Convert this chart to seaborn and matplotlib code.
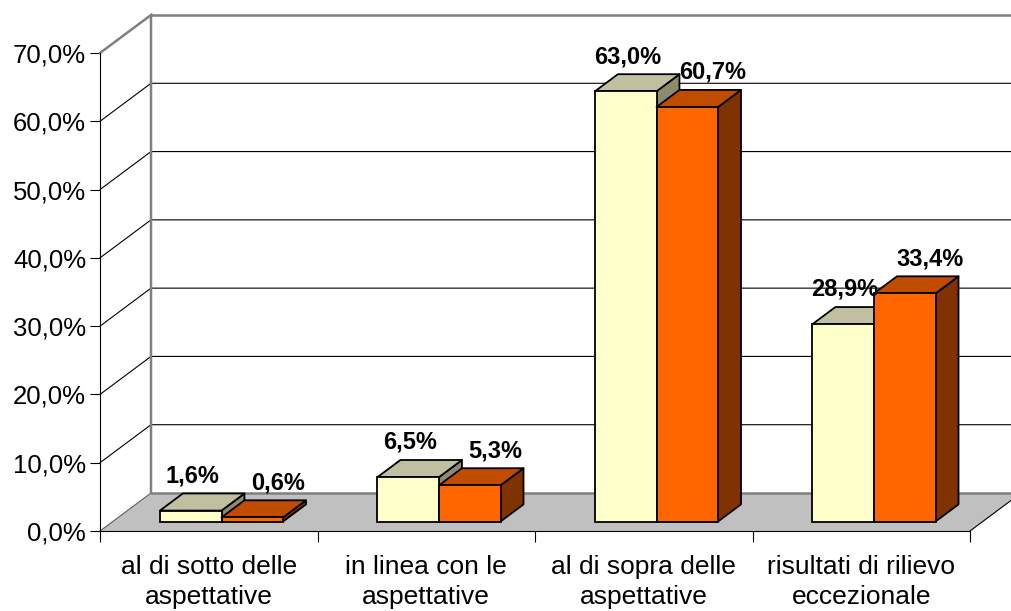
#Recreating the 3D-looking Excel bar chart (two series per category)
import numpy as np
import pandas as pd
import matplotlib
matplotlib.use("Agg")
import matplotlib.pyplot as plt
import seaborn as sns
from matplotlib.patches import Polygon

#DATA
categories = ["al di sotto delle\naspettative", "in linea con le\naspettative",
              "al di sopra delle\naspettative", "risultati di rilievo\neccezionale"]
series_names = ["serie 1", "serie 2"]
serie_1 = [1.6, 6.5, 63.0, 28.9]
serie_2 = [0.6, 5.3, 60.7, 33.4]
y_ticks = [0, 10, 20, 30, 40, 50, 60, 70]

#STYLE
front_cols = ["#FFFFCC", "#FF6600"]
top_cols = ["#C0C0A0", "#C04C00"]
side_cols = ["#8C8C6C", "#803300"]
floor_col = "#C0C0C0"
edge_gray = "#808080"
label_shift = [-7, 10]   #points, horizontal nudge of the value labels per series

def pct(v):
    return f"{v:.1f}".replace(".", ",") + "%"

sns.set_style("white")
plt.rcParams["font.family"] = ["Liberation Sans", "DejaVu Sans"]
plt.rcParams.update({"text.color": "black", "xtick.color": "black", "ytick.color": "black"})

fig = plt.figure(figsize=(10.11, 6.11), dpi=100)
ax = fig.add_axes([100/1011, 80/611, 870/1011, 478/611])

df = pd.DataFrame({"categoria": categories * 2,
                   "serie": [n for n in series_names for _ in categories],
                   "valore": serie_1 + serie_2})

sns.barplot(data=df, x="categoria", y="valore", hue="serie", order=categories,
            hue_order=series_names, palette=front_cols, saturation=1, width=0.566,
            edgecolor="black", linewidth=1.3, errorbar=None, legend=False, ax=ax)

x0, x1 = -0.5, len(categories) - 0.5
ax.set_xlim(x0, x1)
ax.set_ylim(0, 70)

#depth of the "box" in data units (x in categories, y in percent)
DX = 51 / 217.5
DY = 38 / (478 / 70)
z0, z1 = 0.25, 0.70
dz = z1 - z0

#floor and walls
ax.add_patch(Polygon([(x0, 0), (x1, 0), (x1 + DX, DY), (x0 + DX, DY)],
                     closed=True, fc=floor_col, ec="none", zorder=1, clip_on=False))
ax.plot([x1, x1 + DX], [0, DY], color="black", lw=0.8, zorder=1.2, clip_on=False)
ax.plot([x0, x0 + DX], [0, DY], color="#606060", lw=0.8, zorder=1.2, clip_on=False)
for t in y_ticks[1:-1]:
    ax.plot([x0, x0 + DX, x1 + DX], [t, t + DY, t + DY], color="black", lw=0.8,
            zorder=1.2, clip_on=False)
ax.plot([x0, x0 + DX, x0 + DX], [70, 70 + DY, DY], color=edge_gray, lw=1.8,
        zorder=1.5, clip_on=False, solid_joinstyle="miter")
ax.plot([x0 + DX, x1 + DX], [70 + DY, 70 + DY], color=edge_gray, lw=1.8,
        zorder=1.5, clip_on=False)
ax.plot([x0 + DX, x1 + DX], [DY, DY], color=edge_gray, lw=1.8, zorder=1.5, clip_on=False)

#turning the flat bars into boxes
for j, cont in enumerate(ax.containers):
    for i, p in enumerate(cont):
        k = i * 2 + j
        p.set_x(p.get_x() + z0 * DX)
        p.set_y(z0 * DY)
        p.set_zorder(10 + k + 0.5)
        xl, xr = p.get_x(), p.get_x() + p.get_width()
        yb, yt = p.get_y(), p.get_y() + p.get_height()
        top = [(xl, yt), (xr, yt), (xr + dz * DX, yt + dz * DY), (xl + dz * DX, yt + dz * DY)]
        side = [(xr, yb), (xr, yt), (xr + dz * DX, yt + dz * DY), (xr + dz * DX, yb + dz * DY)]
        ax.add_patch(Polygon(side, closed=True, fc=side_cols[j], ec="black", lw=1.3,
                             zorder=10 + k, joinstyle="round"))
        ax.add_patch(Polygon(top, closed=True, fc=top_cols[j], ec="black", lw=1.3,
                             zorder=10 + k, joinstyle="round"))
        ax.annotate(pct(p.get_height()), xy=((xl + xr) / 2 + dz * DX / 2, yt + dz * DY),
                    xytext=(label_shift[j], 8), textcoords="offset points", ha="center",
                    va="baseline", fontsize=17, fontweight="bold", annotation_clip=False,
                    zorder=30)

#axes
for s in ["top", "right"]:
    ax.spines[s].set_visible(False)
for s in ["left", "bottom"]:
    ax.spines[s].set_color("black")
    ax.spines[s].set_linewidth(0.8)
    ax.spines[s].set_zorder(2)
ax.set_yticks(y_ticks)
ax.set_yticklabels([pct(t) for t in y_ticks])
ax.set_xticks(range(len(categories)))
ax.set_xticklabels(categories, linespacing=1.35)
ax.set_xticks(np.arange(x0, x1 + 0.1, 1), minor=True)
ax.tick_params(axis="y", length=7, width=0.8, labelsize=18.5, pad=3, color="black", left=True)
ax.tick_params(axis="x", which="major", length=0, labelsize=19, pad=17)
ax.tick_params(axis="x", which="minor", length=8, width=0.8, color="black", bottom=True)
ax.set_xlabel("")
ax.set_ylabel("")
ax.grid(False)

fig.savefig("out.png", dpi=100)
